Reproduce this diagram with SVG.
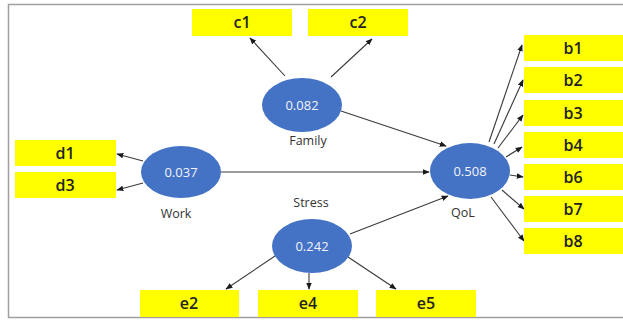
<svg xmlns="http://www.w3.org/2000/svg" width="623" height="320" viewBox="0 0 623 320">
<defs>
<marker id="ah" viewBox="0 0 10 10" refX="9" refY="5" markerWidth="7" markerHeight="7" orient="auto" markerUnits="userSpaceOnUse">
<path d="M0,1 L10,5 L0,9 z" fill="#1a1a1a"/>
</marker>
<style>
.box{fill:#FFFF00;}
.bt{font-family:"Open Sans","Liberation Sans",sans-serif;font-size:16px;font-weight:600;fill:#222;text-anchor:middle;}
.el{fill:#4472C4;}
.et{font-family:"Open Sans","Liberation Sans",sans-serif;font-size:13px;fill:#f2f4fa;text-anchor:middle;}
.lb{font-family:"Open Sans","Liberation Sans",sans-serif;font-size:12.5px;fill:#333;text-anchor:middle;}
.cn line{stroke:#3a3a3a;stroke-width:1.1;marker-end:url(#ah);}
</style>
</defs>
<rect width="623" height="320" fill="#fff"/>
<rect x="8.5" y="4.5" width="620" height="313" fill="none" stroke="#a0a0a0" stroke-width="1.5"/>

<g class="cn" id="connectors">
<line x1="285" y1="76" x2="250" y2="38"/>
<line x1="331" y1="77" x2="372" y2="39"/>
<line x1="341" y1="111" x2="446" y2="146"/>
<line x1="143" y1="161" x2="117" y2="154"/>
<line x1="143" y1="183" x2="117" y2="190"/>
<line x1="221" y1="172" x2="429" y2="172"/>
<line x1="350" y1="234" x2="448" y2="196"/>
<line x1="275" y1="256" x2="226" y2="289"/>
<line x1="309" y1="273" x2="309" y2="289"/>
<line x1="348" y1="257" x2="396" y2="289"/>
<line x1="489" y1="142" x2="522" y2="45"/>
<line x1="494" y1="144" x2="523" y2="80"/>
<line x1="498" y1="148" x2="523" y2="115"/>
<line x1="506" y1="157" x2="522" y2="147"/>
<line x1="510" y1="175" x2="523" y2="177"/>
<line x1="502" y1="190" x2="524" y2="209"/>
<line x1="491" y1="197" x2="524" y2="241"/>
</g>

<g id="c1"><rect class="box" x="192" y="9" width="100" height="27"/><text class="bt" x="242" y="28">c1</text></g>
<g id="c2"><rect class="box" x="308" y="9" width="100" height="27"/><text class="bt" x="358" y="28">c2</text></g>
<g id="d1"><rect class="box" x="15" y="140" width="101" height="26"/><text class="bt" x="65" y="159">d1</text></g>
<g id="d3"><rect class="box" x="15" y="172" width="101" height="26"/><text class="bt" x="65" y="191">d3</text></g>
<g id="e2"><rect class="box" x="140" y="290" width="99" height="27"/><text class="bt" x="189" y="309">e2</text></g>
<g id="e4"><rect class="box" x="258" y="290" width="100" height="27"/><text class="bt" x="308" y="309">e4</text></g>
<g id="e5"><rect class="box" x="376" y="290" width="100" height="27"/><text class="bt" x="426" y="309">e5</text></g>
<g id="b1"><rect class="box" x="524" y="35" width="99" height="26"/><text class="bt" x="573" y="54">b1</text></g>
<g id="b2"><rect class="box" x="524" y="67" width="99" height="26"/><text class="bt" x="573" y="86">b2</text></g>
<g id="b3"><rect class="box" x="524" y="100" width="99" height="26"/><text class="bt" x="573" y="119">b3</text></g>
<g id="b4"><rect class="box" x="524" y="132" width="99" height="26"/><text class="bt" x="573" y="151">b4</text></g>
<g id="b6"><rect class="box" x="524" y="164" width="99" height="26"/><text class="bt" x="573" y="183">b6</text></g>
<g id="b7"><rect class="box" x="524" y="196" width="99" height="26"/><text class="bt" x="573" y="215">b7</text></g>
<g id="b8"><rect class="box" x="524" y="228" width="99" height="26"/><text class="bt" x="573" y="247">b8</text></g>

<g id="Family"><ellipse class="el" cx="302" cy="105" rx="40" ry="27"/><text class="et" x="302" y="110">0.082</text><text class="lb" x="308" y="145">Family</text></g>
<g id="Work"><ellipse class="el" cx="181" cy="172" rx="40" ry="26"/><text class="et" x="181" y="177">0.037</text><text class="lb" x="176" y="218">Work</text></g>
<g id="Stress"><ellipse class="el" cx="312" cy="246" rx="40" ry="27"/><text class="et" x="312" y="251">0.242</text><text class="lb" x="311" y="207">Stress</text></g>
<g id="QoL"><ellipse class="el" cx="470" cy="171" rx="40" ry="28"/><text class="et" x="470" y="176">0.508</text><text class="lb" x="463" y="217">QoL</text></g>
</svg>
